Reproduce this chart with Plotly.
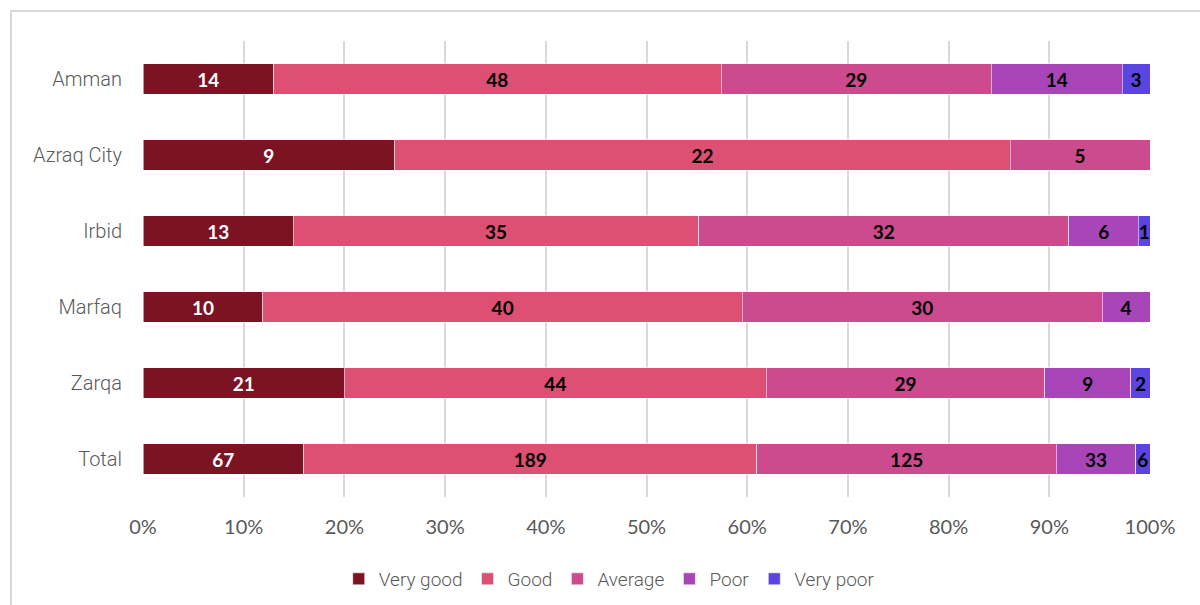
import plotly.graph_objects as go

categories = ["Amman", "Azraq City", "Irbid", "Marfaq", "Zarqa", "Total"]
series_names = ["Very good", "Good", "Average", "Poor", "Very poor"]
very_good = [14, 9, 13, 10, 21, 67]
good = [48, 22, 35, 40, 44, 189]
average = [29, 5, 32, 30, 29, 125]
poor = [14, 0, 6, 4, 9, 33]
very_poor = [3, 0, 1, 0, 2, 6]
tick_vals = [0, 10, 20, 30, 40, 50, 60, 70, 80, 90, 100]
tick_text = ["0%", "10%", "20%", "30%", "40%", "50%", "60%", "70%", "80%", "90%", "100%"]

colors = ["#7B1323", "#DD4F73", "#CC4A8E", "#A845B9", "#5A45E0"]
text_colors = ["white", "black", "black", "black", "black"]
all_series = [very_good, good, average, poor, very_poor]
totals = [sum(v) for v in zip(*all_series)]

fig = go.Figure()
for name, vals, col, tcol in zip(series_names, all_series, colors, text_colors):
    pct = [v / t * 100 for v, t in zip(vals, totals)]
    fig.add_trace(go.Bar(
        y=categories, x=pct, name=name, orientation="h",
        marker=dict(color=col, line=dict(color="rgba(255,255,255,0.55)", width=1)),
        text=[str(v) if v > 0 else "" for v in vals],
        textposition="inside", insidetextanchor="middle", textangle=0,
        constraintext="none",
        textfont=dict(family="Lato, Open Sans, sans-serif", size=19, color=tcol, weight="bold"),
        width=0.4,
        hoverinfo="skip",
    ))

fig.update_layout(
    barmode="stack",
    width=1200, height=605,
    margin=dict(l=143, r=50, t=41, b=108, autoexpand=False),
    paper_bgcolor="white", plot_bgcolor="white",
    showlegend=True,
    legend=dict(orientation="h", x=0.463, xanchor="center",
                yref="container", y=0.043, yanchor="middle",
                traceorder="normal",
                font=dict(family="Roboto, Liberation Sans, sans-serif", size=19, color="#595959", weight=300),
                itemwidth=30, tracegroupgap=0),
    xaxis=dict(range=[0, 100], tickvals=tick_vals, ticktext=tick_text,
               showgrid=True, gridcolor="#D9D9D9", gridwidth=2, zeroline=False,
               showline=False, ticklabelstandoff=16,
               tickfont=dict(family="Lato, Open Sans, sans-serif", size=20, color="#595959")),
    yaxis=dict(categoryorder="array", categoryarray=categories, range=[5.5, -0.5],
               showgrid=False, zeroline=False, showline=False, ticklabelstandoff=20,
               tickfont=dict(family="Roboto, Liberation Sans, sans-serif", size=20, color="#595959", weight=300)),
    shapes=[dict(type="rect", xref="paper", yref="paper",
                 x0=-0.1311, x1=1.06, y0=-0.26, y1=1.0658,
                 line=dict(color="#D9D9D9", width=2), fillcolor="rgba(0,0,0,0)", layer="below")],
)

fig.write_html("out.html")
